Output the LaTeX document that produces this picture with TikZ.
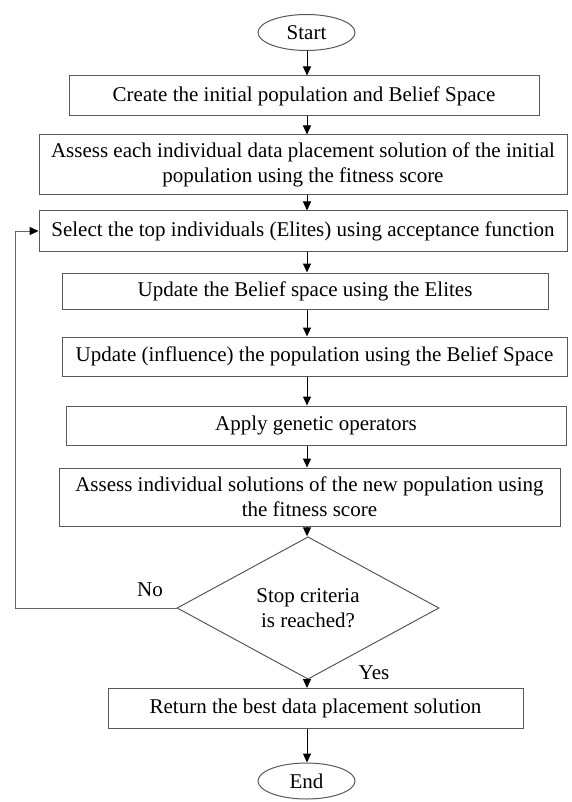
\documentclass[tikz,border=0pt]{standalone}
\usepackage{fontspec}
\setmainfont{Liberation Serif}
\usetikzlibrary{shapes.geometric,arrows.meta}
\begin{document}
\begin{tikzpicture}[x=1pt,y=-1pt,
  font=\fontsize{21}{25}\selectfont,
  box/.style={draw=black!65, line width=1pt, rectangle, inner sep=0pt, align=center},
  term/.style={draw=black!65, line width=1pt, ellipse, inner sep=0pt, minimum width=97pt, minimum height=36pt},
  dec/.style={draw=black!65, line width=1pt, diamond, inner sep=0pt, minimum width=262pt, minimum height=119pt, align=center},
  arr/.style={black, line width=1pt, -{Triangle[length=9pt,width=8pt]}},
  fb/.style={draw=black!60, line width=1pt, -{Triangle[length=9pt,width=8pt,color=black,fill=black]}},
  lbl/.style={inner sep=0pt}]
\useasboundingbox (0,0) rectangle (571,802);
\fill[white] (0,0) rectangle (571,802);
\coordinate (cx) at (307,0);
\coordinate (fbx) at (15,0);

\node[term] (start) at (306.5,32.5) {Start};
\node[box, minimum width=470pt, minimum height=40pt] (b1) at (304,96) {Create the initial population and Belief Space};
\node[box, minimum width=528pt, minimum height=60pt] (b2) at (303,165) {Assess each individual data placement solution of the initial\\population using the fitness score};
\node[box, minimum width=528pt, minimum height=40pt] (b3) at (303,231) {Select the top individuals (Elites) using acceptance function};
\node[box, minimum width=486pt, minimum height=36pt] (b4) at (305,291) {Update the Belief space using the Elites};
\node[box, minimum width=505pt, minimum height=39pt] (b5) at (314.5,356.5) {Update (influence) the population using the Belief Space};
\node[box, minimum width=500pt, minimum height=39pt] (b6) at (316,425.5) {Apply genetic operators};
\node[box, minimum width=501pt, minimum height=58pt] (b7) at (309.5,497) {Assess individual solutions of the new population using\\the fitness score};
\node[dec] (dec) at (308,608) {Stop criteria\\is reached?};
\node[box, minimum width=415pt, minimum height=40pt] (ret) at (315.5,708.5) {Return the best data placement solution};
\node[term] (end) at (306.5,781) {End};

\node[lbl] (no) at (150,590) {No};
\node[lbl] (yes) at (374,673) {Yes};

\draw[arr] (start.south -| cx) -- (b1.north -| cx);
\draw[arr] (b1.south -| cx) -- (b2.north -| cx);
\draw[arr] (b2.south -| cx) -- (b3.north -| cx);
\draw[arr] (b3.south -| cx) -- (b4.north -| cx);
\draw[arr] (b4.south -| cx) -- (b5.north -| cx);
\draw[arr] (b5.south -| cx) -- (b6.north -| cx);
\draw[arr] (b6.south -| cx) -- (b7.north -| cx);
\draw[arr] (b7.south -| cx) -- (dec.north -| cx);
\draw[arr] (dec.south -| cx) -- (ret.north -| cx);
\draw[arr] (ret.south -| cx) -- (end.north -| cx);
\draw[fb] (dec.west) -- (dec.west -| fbx) -- (b3.west -| fbx) -- (b3.west);
\end{tikzpicture}
\end{document}
